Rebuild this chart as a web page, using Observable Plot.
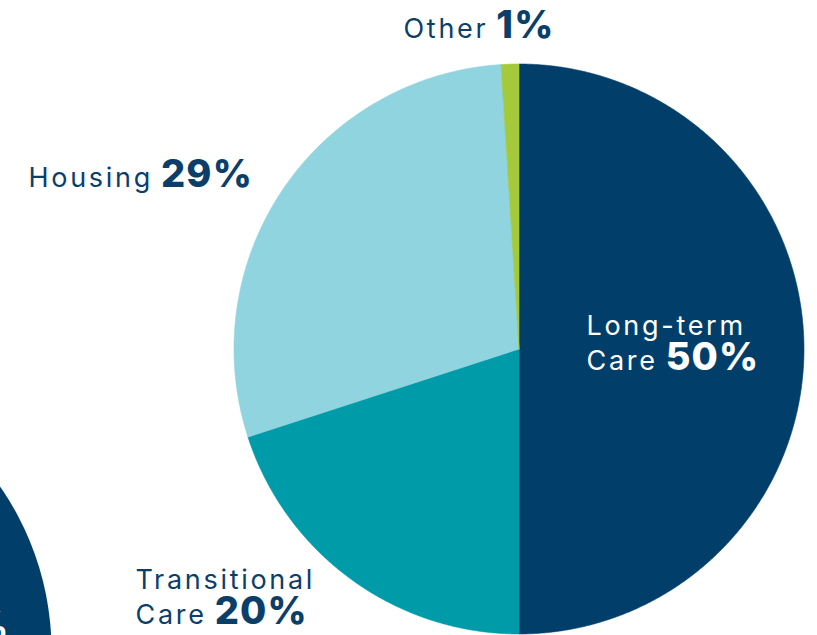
<!DOCTYPE html>
<html><head><meta charset="utf-8">
<script src="https://cdn.jsdelivr.net/npm/d3@7"></script>
<script src="https://cdn.jsdelivr.net/npm/@observablehq/plot@0.6"></script>
<style>html,body{margin:0;padding:0;background:#fff;overflow:hidden}</style>
</head><body><div id="chart"></div>
<script>
// ---- data ----
const categories = ["Long-term Care", "Transitional Care", "Housing", "Other"];
const values = [50, 20, 29, 1];
const labelWords = ["Long-term\nCare", "Transitional\nCare", "Housing", "Other"];
const colors = ["#013f6a", "#009ba9", "#8fd4de", "#a4c93b"];

// ---- layout ----
const W = 817, H = 635;
const cx = 518.5, cy = 348.5, R = 285;
const FONT = "Inter, 'Open Sans', sans-serif";
const fsWord = 27, fsPct = 38, lineH = 35;
const lsWord = 2.7, lsPct = 1.2;
const navyText = "#0b3f6a";
// label anchor: left x of word, baseline of last line, text colour
const labelLayout = [
  {x: 586, y: 369, fill: "#ffffff"},
  {x: 135, y: 623, fill: navyText},
  {x: 28,  y: 186, fill: navyText},
  {x: 403, y: 37,  fill: navyText}
];

const rows = categories.map((c, i) => ({name: c, value: values[i], words: labelWords[i], pct: values[i] + "%", ...labelLayout[i]}));

// slice polygons from pie angles
const arcs = d3.pie().sort(null).value(d => d.value).startAngle(0).endAngle(2 * Math.PI)(rows);
const poly = [];
for (const a of arcs) {
  const n = Math.max(2, Math.ceil((a.endAngle - a.startAngle) / (Math.PI / 720)));
  poly.push({name: a.data.name, px: cx, py: cy});
  for (let k = 0; k <= n; k++) {
    const t = a.startAngle + (a.endAngle - a.startAngle) * k / n;
    poly.push({name: a.data.name, px: cx + R * Math.sin(t), py: cy - R * Math.cos(t)});
  }
  poly.push({name: a.data.name, px: cx, py: cy});
}

// measure words so that the bold percentage follows the last line
const ctx = document.createElement("canvas").getContext("2d");
ctx.font = `400 ${fsWord}px ${FONT}`;
for (const r of rows) {
  const last = r.words.split("\n").pop();
  r.px = r.x + ctx.measureText(last).width + last.length * lsWord + 8;
}

const chart = Plot.plot({
  width: W, height: H, margin: 0,
  x: {domain: [0, W], range: [0, W], axis: null},
  y: {domain: [0, H], range: [0, H], axis: null},
  color: {domain: categories, range: colors},
  style: {background: "white"},
  marks: [
    // neighbouring (cropped) chart in the lower-left corner
    Plot.dot([{x: -236, y: 650}], {x: "x", y: "y", r: 287, fill: "#013f6a", stroke: null}),
    Plot.text([{x: 9, y: 638}], {x: "x", y: "y", text: () => "%", textAnchor: "end", lineAnchor: "bottom", fill: "white", fontSize: fsPct, fontWeight: 800, fontFamily: FONT}),
    Plot.line(poly, {x: "px", y: "py", z: "name", fill: "name", stroke: "name", strokeWidth: 0.6, curve: "linear"}),
    Plot.text(rows, {x: "x", y: "y", text: "words", textAnchor: "start", lineAnchor: "bottom", lineHeight: lineH / fsWord, fill: d => d.fill, fontSize: fsWord, fontWeight: 400, fontFamily: FONT}),
    Plot.text(rows, {x: "px", y: "y", text: "pct", textAnchor: "start", lineAnchor: "bottom", fill: d => d.fill, fontSize: fsPct, fontWeight: 800, fontFamily: FONT})
  ]
});
document.getElementById("chart").appendChild(chart);
// letter spacing by text size (the reference face is wider than Inter)
d3.select(chart).selectAll("g").each(function () {
  const fs = this.getAttribute("font-size");
  const ls = fs == String(fsWord) ? lsWord : fs == String(fsPct) ? lsPct : null;
  if (ls != null) {
    this.setAttribute("letter-spacing", ls);
    d3.select(this).selectAll("text, tspan").attr("letter-spacing", ls).style("letter-spacing", ls + "px");
  }
});
</script>
</body></html>
